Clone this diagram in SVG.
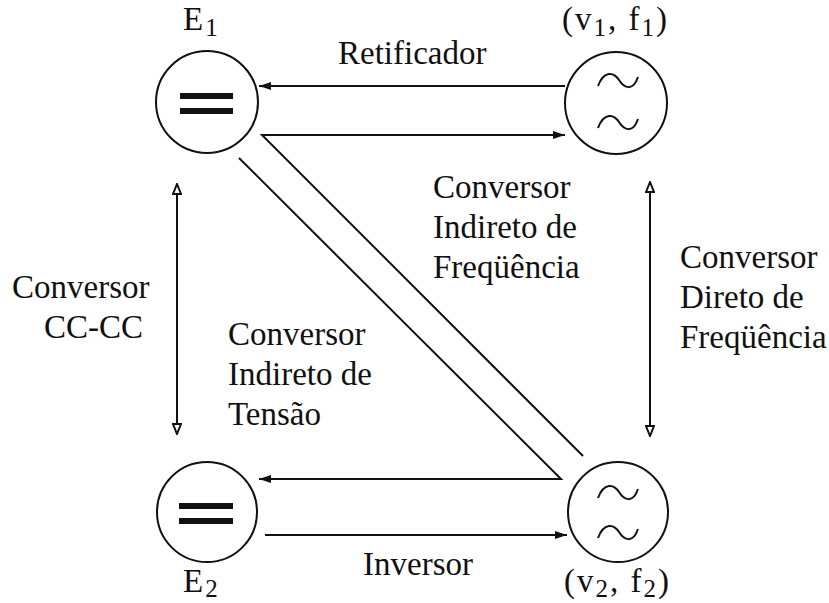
<svg xmlns="http://www.w3.org/2000/svg" width="829" height="603" viewBox="0 0 829 603">
<style>
text{font-family:"Liberation Serif","Times New Roman",serif;font-size:33px;fill:#111}
.s{font-size:25px}
.c{fill:none;stroke:#111;stroke-width:2}
.ln{fill:none;stroke:#111;stroke-width:2}
.bar{fill:#111}
</style>
<defs>
<marker id="ah" viewBox="0 0 12 8" refX="12" refY="4" markerWidth="12" markerHeight="8" markerUnits="userSpaceOnUse" orient="auto">
<path d="M0,0 L12,4 L0,8 Z" fill="#111"/>
</marker>
<marker id="ao" viewBox="0 0 12 10" refX="11" refY="5" markerWidth="12" markerHeight="10" markerUnits="userSpaceOnUse" orient="auto-start-reverse">
<path d="M1,1 L11,5 L1,9 Z" fill="#fff" stroke="#111" stroke-width="2"/>
</marker>
</defs>
<rect width="829" height="603" fill="#fff"/>
<g id="E1">
<circle class="c" cx="207" cy="102" r="51"/>
<rect class="bar" x="180" y="93" width="53" height="6"/>
<rect class="bar" x="180" y="108" width="53" height="6"/>
<text x="183" y="30">E<tspan class="s" dx="2" dy="6">1</tspan></text>
</g>
<g id="V1">
<circle class="c" cx="616" cy="103" r="51"/>
<path class="ln" d="M598,86 C604,70 614,72 619,80 C624,88 633,92 638,77"/>
<path class="ln" d="M598,128 C604,112 614,114 619,122 C624,130 633,134 638,119"/>
<text x="562" y="30" letter-spacing="2">(v<tspan class="s" dy="6">1</tspan><tspan dy="-6">, f</tspan><tspan class="s" dy="6">1</tspan><tspan dy="-6">)</tspan></text>
</g>
<g id="E2">
<circle class="c" cx="207" cy="512" r="50"/>
<rect class="bar" x="179" y="503" width="54" height="6"/>
<rect class="bar" x="179" y="518" width="54" height="6"/>
<text x="183" y="592">E<tspan class="s" dx="2" dy="5">2</tspan></text>
</g>
<g id="V2">
<circle class="c" cx="618" cy="512" r="50"/>
<path class="ln" d="M598,498 C604,482 614,484 619,492 C624,500 633,504 638,489"/>
<path class="ln" d="M598,538 C604,522 614,524 619,532 C624,540 633,544 638,529"/>
<text x="564" y="592" letter-spacing="2">(v<tspan class="s" dy="5">2</tspan><tspan dy="-5">, f</tspan><tspan class="s" dy="5">2</tspan><tspan dy="-5">)</tspan></text>
</g>
<g id="connectors">
<line class="ln" x1="565" y1="86" x2="259" y2="86" marker-end="url(#ah)"/>
<path class="ln" d="M583,456 L262,135 L565,135" marker-end="url(#ah)"/>
<path class="ln" d="M239,158 L561,479 L259,479" marker-end="url(#ah)"/>
<line class="ln" x1="265" y1="535" x2="567" y2="535" marker-end="url(#ah)"/>
<line class="ln" x1="177" y1="184" x2="177" y2="434" marker-start="url(#ao)" marker-end="url(#ao)"/>
<line class="ln" x1="650" y1="182" x2="650" y2="436" marker-start="url(#ao)" marker-end="url(#ao)"/>
</g>
<g id="labels">
<text x="338" y="64">Retificador</text>
<text x="433" y="198">Conversor</text>
<text x="433" y="238">Indireto de</text>
<text x="433" y="278">Freqüência</text>
<text x="12" y="298">Conversor</text>
<text x="44" y="338">CC-CC</text>
<text x="228" y="345">Conversor</text>
<text x="228" y="385">Indireto de</text>
<text x="228" y="425">Tensão</text>
<text x="680" y="268">Conversor</text>
<text x="680" y="308">Direto de</text>
<text x="680" y="348">Freqüência</text>
<text x="363" y="575">Inversor</text>
</g>
</svg>
